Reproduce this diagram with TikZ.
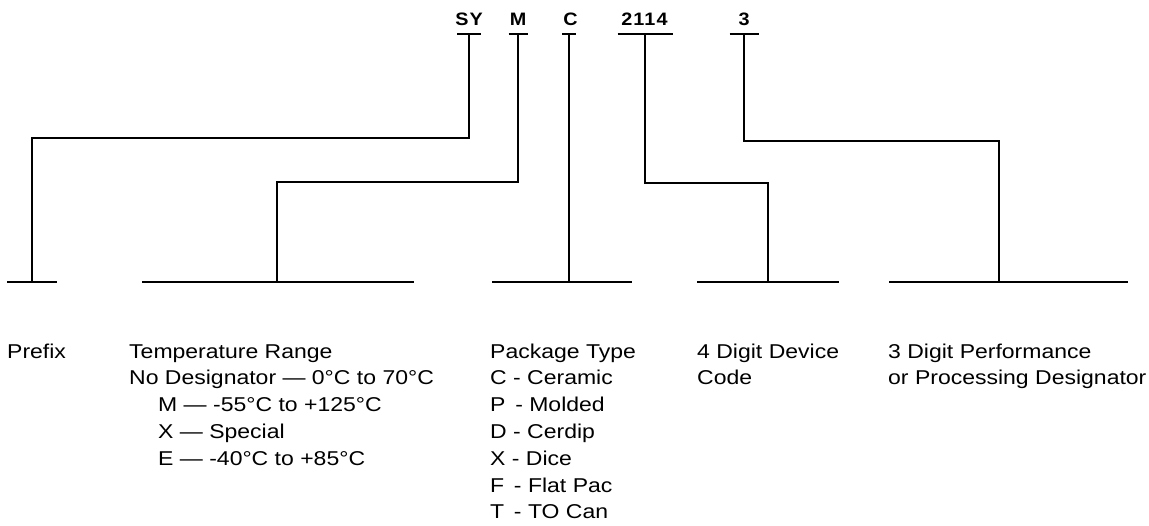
\documentclass[tikz,border=0pt]{standalone}
\usepackage{fontspec}
\setmainfont{Liberation Sans}[FakeStretch=1.15]
\newfontfamily\topfont{Liberation Sans}[FakeStretch=1.1,LetterSpace=6]
\begin{document}
\begin{tikzpicture}[x=1pt,y=-1pt,
  conn/.style={line width=2pt, line join=miter},
  rule/.style={line width=2.2pt},
  hbar/.style={inner sep=0pt, outer sep=0pt, minimum height=0pt, minimum width=#1},
  code/.style={font=\topfont\bfseries\fontsize{18}{20}\selectfont, anchor=base, inner sep=0pt},
  desc/.style={font=\fontsize{20}{26.8}\selectfont, anchor=base west, align=left, inner sep=0pt}]
\fill[white] (0,0) rectangle (1149,525);
\useasboundingbox (0,0) rectangle (1149,525);

% top code letters
\node[code] (SY) at (469,25.5) {SY};
\node[code] (M) at (518,25.5) {M};
\node[code] (C) at (570.5,25.5) {C};
\node[code] (D2114) at (644.5,25.5) {2114};
\node[code] (D3) at (744,25.5) {3};

% top bars
\node[hbar=24] (tbSY) at (469,34) {};
\node[hbar=19] (tbM) at (518,34) {};
\node[hbar=14] (tbC) at (569,34) {};
\node[hbar=55] (tb2114) at (645,34) {};
\node[hbar=29] (tb3) at (744,34) {};
\foreach \n in {tbSY,tbM,tbC,tb2114,tb3} \draw[rule] (\n.west) -- (\n.east);

% bottom bars
\node[hbar=50] (b1) at (32,282) {};
\node[hbar=272] (b2) at (278,282) {};
\node[hbar=140] (b3) at (562,282) {};
\node[hbar=142] (b4) at (768,282) {};
\node[hbar=239] (b5) at (1008.5,282) {};
\foreach \n in {b1,b2,b3,b4,b5} \draw[rule] (\n.west) -- (\n.east);

% connectors
\coordinate (k1) at (32,138);
\coordinate (k2) at (277,182);
\coordinate (k4) at (768,183);
\coordinate (k5) at (999,141);
\draw[conn] (tbSY) |- (k1) -- (k1 |- b1);
\draw[conn] (tbM) |- (k2) -- (k2 |- b2);
\draw[conn] (tbC) -- (tbC |- b3);
\draw[conn] (tb2114) |- (k4) -- (k4 |- b4);
\draw[conn] (tb3) |- (k5) -- (k5 |- b5);

% descriptions (anchor = baseline of the last line)
\node[desc] (pre) at (7,358) {Prefix};
\node[desc] (temp) at (129,384.8) {Temperature Range\\No Designator — 0°C to 70°C};
\node[desc] (tempb) at (158,465.2) {M — -55°C to +125°C\\X — Special\\E — -40°C to +85°C};
\node[desc] (pkg) at (490,518.8) {Package Type\\C - Ceramic\\P\, - Molded\\D - Cerdip\\X - Dice\\F\, - Flat Pac\\T\, - TO Can};
\node[desc] (dev) at (697,384.8) {4 Digit Device\\Code};
\node[desc] (perf) at (888,384.8) {3 Digit Performance\\or Processing Designator};
\end{tikzpicture}
\end{document}
